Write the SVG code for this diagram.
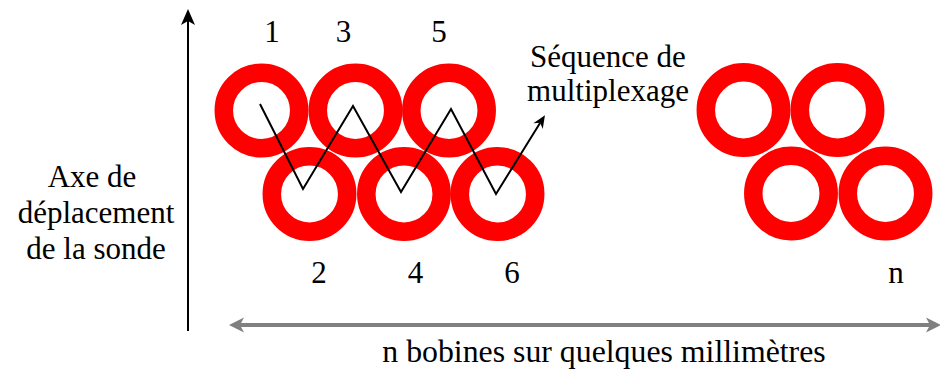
<svg xmlns="http://www.w3.org/2000/svg" width="940" height="372" viewBox="0 0 940 372">
<style>
.ring{fill:none;stroke:#FF0000;stroke-width:18.5}
.t{font-family:"Liberation Serif","Times New Roman",serif;font-size:31px;fill:#000;text-anchor:middle}
.blk{fill:none;stroke:#000;stroke-width:2}
.gry{fill:none;stroke:#808080;stroke-width:4}
</style>
<defs>
<marker id="ahBig" markerUnits="userSpaceOnUse" viewBox="-17 -8 18 16" markerWidth="18" markerHeight="16" refX="-12" refY="0" orient="auto">
<path d="M0,0 L-16,-7 L-12,0 L-16,7 Z" fill="#000"/>
</marker>
<marker id="ahSmall" markerUnits="userSpaceOnUse" viewBox="-14 -7 15 14" markerWidth="15" markerHeight="14" refX="-9" refY="0" orient="auto">
<path d="M0,0 L-13,-5.5 L-9,0 L-13,5.5 Z" fill="#000"/>
</marker>
<marker id="ahGray" markerUnits="userSpaceOnUse" viewBox="-16 -9 17 18" markerWidth="17" markerHeight="18" refX="-11" refY="0" orient="auto-start-reverse">
<path d="M0,0 L-15,-7.5 L-11,0 L-15,7.5 Z" fill="#808080"/>
</marker>
</defs>

<g id="coil-1"><circle class="ring" cx="261.5" cy="110.5" r="37.7"/></g>
<g id="coil-3"><circle class="ring" cx="355.5" cy="110.5" r="37.7"/></g>
<g id="coil-5"><circle class="ring" cx="449" cy="110.5" r="37.7"/></g>
<g id="coil-2"><circle class="ring" cx="309.5" cy="194" r="37.7"/></g>
<g id="coil-4"><circle class="ring" cx="404" cy="194" r="37.7"/></g>
<g id="coil-6"><circle class="ring" cx="497.5" cy="194" r="37.7"/></g>
<g id="coil-a"><circle class="ring" cx="743.5" cy="110" r="37.7"/></g>
<g id="coil-b"><circle class="ring" cx="837.5" cy="110" r="37.7"/></g>
<g id="coil-c"><circle class="ring" cx="791" cy="193.5" r="37.7"/></g>
<g id="coil-n"><circle class="ring" cx="885.5" cy="193.5" r="37.7"/></g>

<g id="connectors">
<line class="blk" x1="188" y1="331" x2="188" y2="21" marker-end="url(#ahBig)"/>
<polyline class="blk" points="260,104 303,189 353,106 401,192 451,109 496,194 540.2,122.8" marker-end="url(#ahSmall)"/>
<line class="gry" x1="240" y1="325" x2="930" y2="325" marker-start="url(#ahGray)" marker-end="url(#ahGray)"/>
</g>

<g id="labels">
<text class="t" x="272" y="42">1</text>
<text class="t" x="343.5" y="42">3</text>
<text class="t" x="439" y="42">5</text>
<text class="t" x="319" y="283">2</text>
<text class="t" x="415.5" y="283">4</text>
<text class="t" x="512" y="283">6</text>
<text class="t" x="896" y="283">n</text>
<text class="t" x="608" y="67">Séquence de</text>
<text class="t" x="608" y="101">multiplexage</text>
<text class="t" x="92" y="187">Axe de</text>
<text class="t" x="96" y="223">déplacement</text>
<text class="t" x="96" y="259">de la sonde</text>
<text class="t" x="604" y="362" style="font-size:31.8px">n bobines sur quelques millimètres</text>
</g>
</svg>
